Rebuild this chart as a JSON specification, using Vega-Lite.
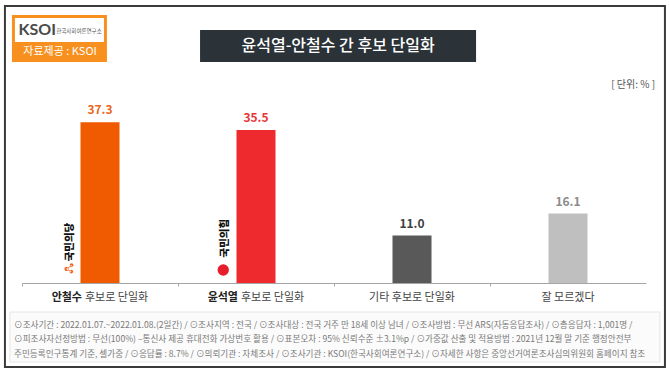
{
  "$schema": "https://vega.github.io/schema/vega-lite/v6.json",
  "width": 624,
  "height": 194,
  "autosize": {"type": "none"},
  "padding": {"left": 22, "top": 89, "right": 24, "bottom": 92},
  "background": "white",
  "config": {"view": {"stroke": null}, "font": "Noto Sans CJK KR"},
  "datasets": {
    "bars": [
      {"cat": "안철수 후보로 단일화", "value": 37.3, "bold": "안철수", "rest": "후보로 단일화"},
      {"cat": "윤석열 후보로 단일화", "value": 35.5, "bold": "윤석열", "rest": "후보로 단일화"},
      {"cat": "기타 후보로 단일화", "value": 11.0, "bold": "", "rest": "기타 후보로 단일화"},
      {"cat": "잘 모르겠다", "value": 16.1, "bold": "", "rest": "잘 모르겠다"}
    ],
    "footer": [
      {"line": 1, "text": "⊙조사기간 : 2022.01.07.~2022.01.08.(2일간)  / ⊙조사지역 : 전국 / ⊙조사대상 : 전국 거주 만 18세 이상 남녀 / ⊙조사방법 : 무선 ARS(자동응답조사) / ⊙총응답자 : 1,001명 /"},
      {"line": 2, "text": "⊙피조사자선정방법 : 무선(100%) –통신사 제공 휴대전화 가상번호 활용 / ⊙표본오차 : 95% 신뢰수준 ±3.1%p / ⊙가중값 산출 및 적용방법 : 2021년 12월 말 기준 행정안전부"},
      {"line": 3, "text": "주민등록인구통계 기준, 셀가중 / ⊙응답률 : 8.7% / ⊙의뢰기관 : 자체조사 / ⊙조사기관 : KSOI(한국사회여론연구소) / ⊙자세한 사항은 중앙선거여론조사심의위원회 홈페이지 참조"}
    ]
  },
  "layer": [
    {
      "data": {"name": "bars"},
      "mark": {"type": "bar", "width": 39},
      "encoding": {
        "x": {
          "field": "cat",
          "type": "nominal",
          "sort": null,
          "scale": {"domain": ["안철수 후보로 단일화", "윤석열 후보로 단일화", "기타 후보로 단일화", "잘 모르겠다"], "paddingInner": 0, "paddingOuter": 0},
          "axis": {"title": null, "labels": false, "domainColor": "#a6a6a6", "tickColor": "#a6a6a6", "tickSize": 3, "bandPosition": 0, "grid": false}
        },
        "y": {"field": "value", "type": "quantitative", "scale": {"domain": [0, 45]}, "axis": null},
        "color": {
          "field": "cat",
          "type": "nominal",
          "scale": {"domain": ["안철수 후보로 단일화", "윤석열 후보로 단일화", "기타 후보로 단일화", "잘 모르겠다"], "range": ["#f05a00", "#ee2a2e", "#595959", "#bfbfbf"]},
          "legend": null
        }
      }
    },
    {
      "data": {"values": [{}]},
      "mark": {"type": "point", "shape": "M-1,-0.547H1V0.547H-1Z", "size": 435600, "filled": false, "stroke": "#3a3a3a", "strokeWidth": 2, "opacity": 1},
      "encoding": {
        "x": {"datum": "기타 후보로 단일화", "bandPosition": 0.006},
        "y": {"datum": 22.38, "type": "quantitative"}
      }
    },
    {
      "data": {"values": [{}]},
      "mark": {"type": "point", "shape": "M-1,-0.0769H1V0.0769H-1Z", "size": 422500, "filled": true, "fill": "#fbfbfb", "stroke": "#e6e6e6", "strokeWidth": 1, "opacity": 1},
      "encoding": {
        "x": {"datum": "기타 후보로 단일화", "bandPosition": 0.006},
        "y": {"datum": -12.53, "type": "quantitative"}
      }
    },
    {
      "data": {"values": [{}]},
      "mark": {"type": "point", "shape": "M-1,-0.4947H1V0.4947H-1Z", "size": 9025, "filled": true, "color": "#f7901e", "opacity": 1},
      "encoding": {
        "x": {"datum": "안철수 후보로 단일화", "bandPosition": 0.24},
        "y": {"datum": 56.72, "type": "quantitative"}
      }
    },
    {
      "data": {"values": [{}]},
      "mark": {"type": "point", "shape": "M-1,-0.2697H1V0.2697H-1Z", "size": 7921, "filled": true, "color": "#ffffff", "opacity": 1},
      "encoding": {
        "x": {"datum": "안철수 후보로 단일화", "bandPosition": 0.24},
        "y": {"datum": 58.69, "type": "quantitative"}
      }
    },
    {
      "data": {"values": [{}]},
      "mark": {"type": "text", "text": "KSOI", "fontSize": 16, "fontWeight": "bold", "color": "#4a4a4a", "font": "Lato", "baseline": "middle"},
      "encoding": {
        "x": {"datum": "안철수 후보로 단일화", "bandPosition": 0.098},
        "y": {"datum": 58.6, "type": "quantitative"}
      }
    },
    {
      "data": {"values": [{}]},
      "mark": {"type": "text", "text": "한국사회여론연구소", "fontSize": 5.5, "color": "#555555", "baseline": "middle"},
      "encoding": {
        "x": {"datum": "안철수 후보로 단일화", "bandPosition": 0.365},
        "y": {"datum": 58.5, "type": "quantitative"}
      }
    },
    {
      "data": {"values": [{}]},
      "mark": {"type": "text", "text": "자료제공 : KSOI", "fontSize": 11, "color": "white", "baseline": "middle"},
      "encoding": {
        "x": {"datum": "안철수 후보로 단일화", "bandPosition": 0.244},
        "y": {"datum": 53.6, "type": "quantitative"}
      }
    },
    {
      "data": {"values": [{}]},
      "mark": {"type": "point", "shape": "M-1,-0.1159H1V0.1159H-1Z", "size": 76176, "filled": true, "color": "#2b3238", "opacity": 1},
      "encoding": {
        "x": {"datum": "기타 후보로 단일화", "bandPosition": 0.026},
        "y": {"datum": 54.98, "type": "quantitative"}
      }
    },
    {
      "data": {"values": [{}]},
      "mark": {"type": "text", "text": "윤석열-안철수 간 후보 단일화", "fontSize": 16, "fontWeight": 500, "color": "white", "baseline": "middle"},
      "encoding": {
        "x": {"datum": "기타 후보로 단일화", "bandPosition": 0.026},
        "y": {"datum": 54.98, "type": "quantitative"}
      }
    },
    {
      "data": {"values": [{}]},
      "mark": {"type": "text", "text": "[ 단위: % ]", "fontSize": 10, "color": "#555555", "align": "right", "baseline": "middle"},
      "encoding": {
        "x": {"datum": "잘 모르겠다", "bandPosition": 1.058},
        "y": {"datum": 45.93, "type": "quantitative"}
      }
    },
    {
      "data": {"name": "bars"},
      "mark": {"type": "text", "fontSize": 12, "fontWeight": "bold", "baseline": "bottom", "dy": -5},
      "encoding": {
        "x": {"field": "cat", "type": "nominal", "sort": null},
        "y": {"field": "value", "type": "quantitative"},
        "text": {"field": "value", "type": "quantitative", "format": ".1f"},
        "color": {
          "field": "cat",
          "type": "nominal",
          "scale": {"domain": ["안철수 후보로 단일화", "윤석열 후보로 단일화", "기타 후보로 단일화", "잘 모르겠다"], "range": ["#e8671c", "#e8353a", "#404040", "#8c8c8c"]},
          "legend": null
        }
      }
    },
    {
      "data": {"name": "bars"},
      "transform": [{"filter": "datum.bold != ''"}],
      "mark": {"type": "text", "fontSize": 11, "fontWeight": "bold", "color": "#222222", "align": "right", "baseline": "middle", "dx": -18},
      "encoding": {
        "x": {"field": "cat", "type": "nominal", "sort": null},
        "y": {"datum": -3.5, "type": "quantitative"},
        "text": {"field": "bold"}
      }
    },
    {
      "data": {"name": "bars"},
      "transform": [{"filter": "datum.bold != ''"}],
      "mark": {"type": "text", "fontSize": 11, "color": "#444444", "align": "left", "baseline": "middle", "dx": -15},
      "encoding": {
        "x": {"field": "cat", "type": "nominal", "sort": null},
        "y": {"datum": -3.5, "type": "quantitative"},
        "text": {"field": "rest"}
      }
    },
    {
      "data": {"name": "bars"},
      "transform": [{"filter": "datum.bold == ''"}],
      "mark": {"type": "text", "fontSize": 11, "color": "#444444", "align": "center", "baseline": "middle"},
      "encoding": {
        "x": {"field": "cat", "type": "nominal", "sort": null},
        "y": {"datum": -3.5, "type": "quantitative"},
        "text": {"field": "rest"}
      }
    },
    {
      "data": {"values": [{}]},
      "mark": {"type": "text", "text": "국민의당", "fontSize": 10.5, "fontWeight": 900, "color": "#111111", "angle": 270, "align": "center", "baseline": "middle"},
      "encoding": {
        "x": {"datum": "안철수 후보로 단일화", "bandPosition": 0.308},
        "y": {"datum": 9.5, "type": "quantitative"}
      }
    },
    {
      "data": {"values": [{}]},
      "mark": {"type": "point", "shape": "M-0.75,0.15A0.35,0.35 0 1,0 -0.05,0.15A0.35,0.35 0 1,0 -0.75,0.15ZM0.15,-0.5A0.3,0.3 0 1,0 0.75,-0.5A0.3,0.3 0 1,0 0.15,-0.5ZM0.1,0.6A0.3,0.3 0 1,0 0.7,0.6A0.3,0.3 0 1,0 0.1,0.6ZM-0.4,0.05L0.45,-0.5L0.5,-0.4L-0.35,0.15ZM-0.4,0.1L0.4,0.55L0.35,0.65L-0.45,0.2Z", "filled": true, "size": 144, "color": "#f26522", "opacity": 1},
      "encoding": {
        "x": {"datum": "안철수 후보로 단일화", "bandPosition": 0.301},
        "y": {"datum": 3.48, "type": "quantitative"}
      }
    },
    {
      "data": {"values": [{}]},
      "mark": {"type": "text", "text": "국민의힘", "fontSize": 10.5, "fontWeight": 900, "color": "#111111", "angle": 270, "align": "center", "baseline": "middle"},
      "encoding": {
        "x": {"datum": "윤석열 후보로 단일화", "bandPosition": 0.301},
        "y": {"datum": 10.4, "type": "quantitative"}
      }
    },
    {
      "data": {"values": [{}]},
      "mark": {"type": "point", "shape": "circle", "filled": true, "size": 130, "color": "#e61e2b", "opacity": 1},
      "encoding": {
        "x": {"datum": "윤석열 후보로 단일화", "bandPosition": 0.29},
        "y": {"datum": 3.02, "type": "quantitative"}
      }
    },
    {
      "data": {"name": "footer"},
      "transform": [{"filter": "datum.line == 1"}],
      "mark": {"type": "text", "fontSize": 8.6, "color": "#7a7a7a", "align": "left", "baseline": "middle"},
      "encoding": {
        "x": {"datum": "안철수 후보로 단일화", "bandPosition": -0.051},
        "y": {"datum": -9.74, "type": "quantitative"},
        "text": {"field": "text"}
      }
    },
    {
      "data": {"name": "footer"},
      "transform": [{"filter": "datum.line == 2"}],
      "mark": {"type": "text", "fontSize": 8.6, "color": "#7a7a7a", "align": "left", "baseline": "middle"},
      "encoding": {
        "x": {"datum": "안철수 후보로 단일화", "bandPosition": -0.051},
        "y": {"datum": -12.99, "type": "quantitative"},
        "text": {"field": "text"}
      }
    },
    {
      "data": {"name": "footer"},
      "transform": [{"filter": "datum.line == 3"}],
      "mark": {"type": "text", "fontSize": 8.6, "color": "#7a7a7a", "align": "left", "baseline": "middle"},
      "encoding": {
        "x": {"datum": "안철수 후보로 단일화", "bandPosition": -0.051},
        "y": {"datum": -16.47, "type": "quantitative"},
        "text": {"field": "text"}
      }
    }
  ],
  "resolve": {"scale": {"color": "independent"}}
}
